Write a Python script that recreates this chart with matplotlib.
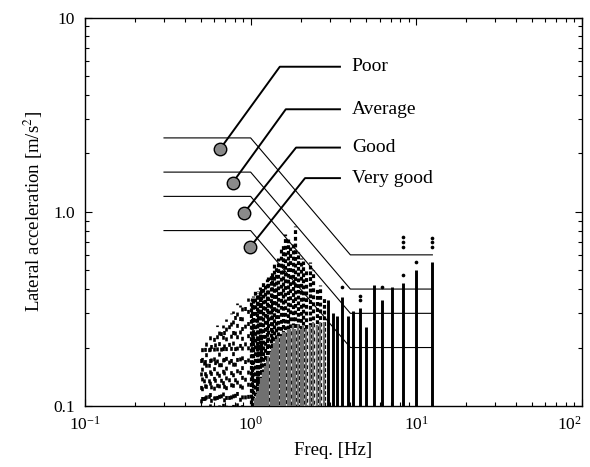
import numpy as np
import matplotlib
matplotlib.use("Agg")
import matplotlib.pyplot as plt
from matplotlib.ticker import LogLocator, FixedLocator, FixedFormatter, LogFormatterMathtext

plt.rcParams["font.family"] = ["Liberation Serif", "DejaVu Serif"]
plt.rcParams["mathtext.fontset"] = "stix"

# discrete frequency columns (Hz) and top of the solid column (m/s2)
col_freq = [12.5, 10.0, 8.33, 7.14, 6.25, 5.56, 5.00, 4.55, 4.17, 3.85, 3.57, 3.33, 3.13, 2.94]
col_top = [0.55, 0.50, 0.43, 0.41, 0.35, 0.42, 0.256, 0.32, 0.31, 0.29, 0.365, 0.29, 0.30, 0.35]

# dense cloud at lower frequencies: envelope top and grey core top
cloud_freq = [2.78, 2.63, 2.50, 2.38, 2.27, 2.17, 2.08, 2.00, 1.92, 1.85,
              1.79, 1.72, 1.67, 1.61, 1.56, 1.52, 1.47, 1.43, 1.39, 1.35,
              1.32, 1.28, 1.25, 1.22, 1.19, 1.16, 1.14, 1.11, 1.09, 1.06,
              1.04, 1.02, 1.00, 0.96, 0.93, 0.89, 0.86, 0.83, 0.81, 0.78,
              0.76, 0.74, 0.71, 0.69, 0.68, 0.66, 0.64, 0.63, 0.61, 0.60,
              0.58, 0.57, 0.56, 0.54, 0.53, 0.52, 0.51, 0.50]
cloud_top = [0.36, 0.42, 0.40, 0.50, 0.55, 0.50, 0.56, 0.58, 0.62, 0.84,
             0.70, 0.66, 0.72, 0.77, 0.68, 0.66, 0.58, 0.52, 0.55, 0.50,
             0.47, 0.46, 0.45, 0.43, 0.44, 0.40, 0.41, 0.39, 0.38, 0.40,
             0.37, 0.36, 0.35, 0.36, 0.35, 0.34, 0.33, 0.34, 0.32, 0.31,
             0.30, 0.31, 0.28, 0.27, 0.26, 0.27, 0.25, 0.26, 0.24, 0.24,
             0.23, 0.24, 0.22, 0.22, 0.21, 0.20, 0.21, 0.19]
cloud_core = [0.27, 0.27, 0.26, 0.27, 0.26, 0.25, 0.26, 0.25, 0.26, 0.25,
              0.26, 0.25, 0.25, 0.24, 0.24, 0.23, 0.23, 0.22, 0.21, 0.20,
              0.19, 0.18, 0.17, 0.16, 0.15, 0.14, 0.13, 0.12, 0.115, 0.11,
              0.10, 0.10, 0.10, 0.10, 0.10, 0.10, 0.10, 0.10, 0.10, 0.10,
              0.10, 0.10, 0.10, 0.10, 0.10, 0.10, 0.10, 0.10, 0.10, 0.10,
              0.10, 0.10, 0.10, 0.10, 0.10, 0.10, 0.10, 0.10]

# isolated points above the columns
out_freq = [12.5, 12.5, 12.5, 10.0, 8.33, 8.33, 8.33, 8.33, 6.25, 4.55, 4.55, 3.57]
out_acc = [0.73, 0.70, 0.66, 0.55, 0.74, 0.70, 0.66, 0.47, 0.41, 0.37, 0.35, 0.41]

# evaluation limits: level at low freq, level at high freq
grades = ["Poor", "Average", "Good", "Very good"]
level_low = [2.4, 1.6, 1.2, 0.8]
level_high = [0.6, 0.4, 0.3, 0.2]
f_start, f_bend1, f_bend2, f_end = 0.30, 1.0, 4.0, 12.5

# annotation circles and leader elbows
dot_f = [0.653, 0.778, 0.915, 0.99]
dot_a = [2.10, 1.41, 0.99, 0.656]
elbow_f = [1.50, 1.63, 1.88, 2.13]
elbow_a = [5.58, 3.37, 2.14, 1.49]
lead_end_f = 3.46

fig = plt.figure(figsize=(5.9, 4.67), dpi=100)
ax = fig.add_axes([0.144, 0.1306, 0.8424, 0.8319])
ax.set_xscale("log")
ax.set_yscale("log")
ax.set_xlim(0.1, 100)
ax.set_ylim(0.1, 10)

# cloud columns drawn as dotted strips
dense_gaps = [0.6, 0.9, 0.7, 1.0]
sparse_gaps = [2.2, 3.6, 2.8, 4.4, 2.5, 3.1, 5.2]
for i, (f, top) in enumerate(zip(cloud_freq, cloud_top)):
    if f >= 1.0:
        gap = dense_gaps[i % len(dense_gaps)]
        dash = 1.2
        lw = 2.3
    else:
        gap = sparse_gaps[i % len(sparse_gaps)]
        dash = 1.5
        lw = 1.9
    ax.vlines(f, 0.1, top, color="black", lw=lw,
              linestyles=[((i * 2.3) % 5.3, (dash, gap))], zorder=2)

for f, core in zip(cloud_freq, cloud_core):
    if core > 0.1:
        ax.vlines(f, 0.1, core, color="#707070", lw=1.6, zorder=3)

ax.vlines(col_freq, 0.1, col_top, color="black", lw=2.1, zorder=3)
ax.scatter(out_freq, out_acc, s=7, color="black", marker="o", zorder=3, linewidths=0)

# limit lines
for lo, hi in zip(level_low, level_high):
    ax.plot([f_start, f_bend1, f_bend2, f_end], [lo, lo, hi, hi],
            color="black", lw=0.8, zorder=4)

for i, g in enumerate(grades):
    ax.plot([dot_f[i], elbow_f[i], lead_end_f], [dot_a[i], elbow_a[i], elbow_a[i]],
            color="black", lw=1.4, zorder=5)
    ax.plot(dot_f[i], dot_a[i], "o", ms=9, mfc="#8a8a8a", mec="black", mew=1.0, zorder=6)
    ax.text(lead_end_f * 1.18, elbow_a[i], g, fontsize=14, va="center", ha="left", zorder=6)

ax.xaxis.set_major_locator(LogLocator(base=10, numticks=10))
ax.xaxis.set_major_formatter(LogFormatterMathtext())
ax.yaxis.set_major_locator(FixedLocator([0.1, 1.0, 10]))
ax.yaxis.set_major_formatter(FixedFormatter(["0.1", "1.0", "10"]))
ax.tick_params(which="both", direction="in", top=True, right=True, width=0.8)
ax.tick_params(which="major", length=5, labelsize=12.5, pad=7)
ax.tick_params(which="minor", length=3)
for s in ax.spines.values():
    s.set_linewidth(1.0)

ax.set_xlabel("Freq. [Hz]", fontsize=13.5, labelpad=6)
ax.set_ylabel("Lateral acceleration [m/s$^2$]", fontsize=13.5, labelpad=6)

# keep the last x label inside the canvas
fig.canvas.draw()
for lab in ax.get_xticklabels():
    if lab.get_position()[0] == 100:
        lab.set_horizontalalignment("right")

fig.savefig("out.png", dpi=100)
